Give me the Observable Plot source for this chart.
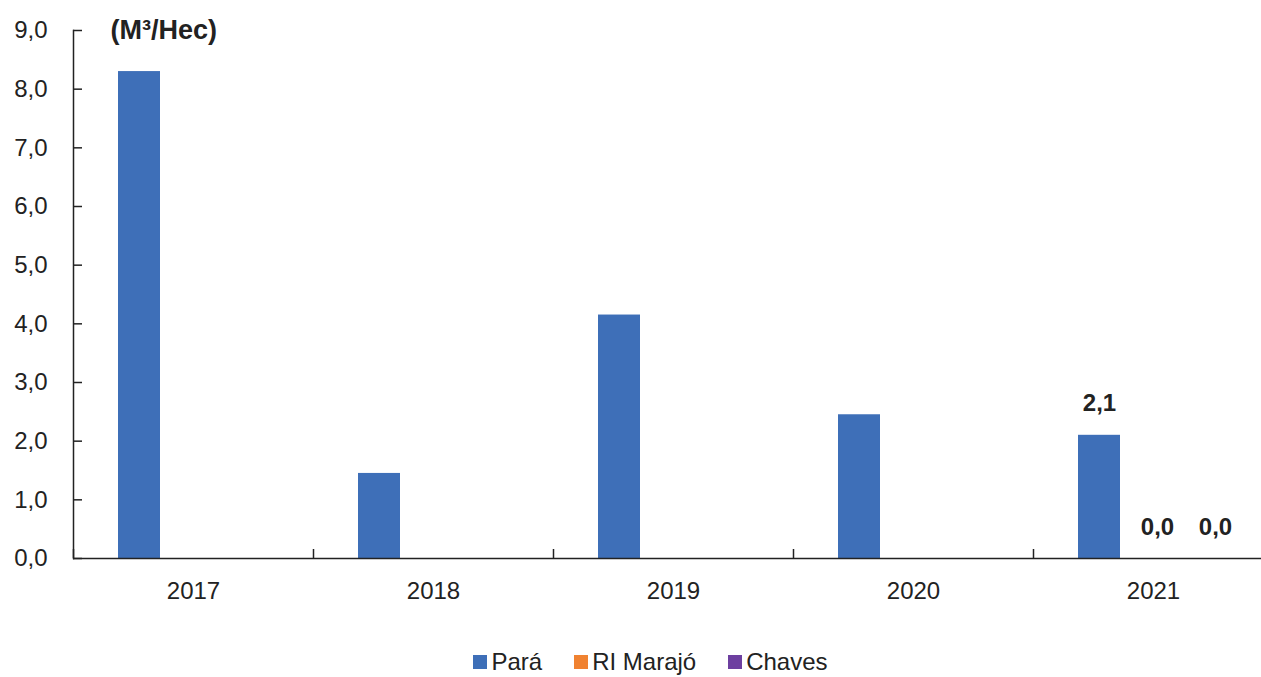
<!DOCTYPE html>
<html>
<head>
<meta charset="utf-8">
<script src="https://cdn.jsdelivr.net/npm/d3@7"></script>
<script src="https://cdn.jsdelivr.net/npm/@observablehq/plot@0.6"></script>
<style>
  html, body { margin: 0; padding: 0; background: #fff; overflow: hidden; }
  #chart { width: 1261px; }
  .legend { display: flex; justify-content: center; align-items: center; margin-top: 28px; padding-left: 40px;
    font-family: "Liberation Sans", Arial, sans-serif; font-size: 24px; line-height: 28px; color: #222; }
  .legend .item { display: flex; align-items: center; margin: 0 16px; }
  .legend .sw { width: 14px; height: 14px; margin-right: 4px; }
</style>
</head>
<body>
<div id="chart"></div>
<script>
const years = ["2017", "2018", "2019", "2020", "2021"];
const series = ["Pará", "RI Marajó", "Chaves"];
const para = [8.3, 1.45, 4.15, 2.45, 2.1];
const marajo = [null, null, null, null, 0];
const chaves = [null, null, null, null, 0];
const colors = ["#3E6FB8", "#F08231", "#6D3FA0"];
const yTicks = [0, 1, 2, 3, 4, 5, 6, 7, 8, 9];
const unitLabel = "(M³/Hec)";
const labelledYear = "2021";

const values = [para, marajo, chaves];
const data = years.flatMap((yr, i) => series.map((s, j) => ({year: yr, series: s, value: values[j][i]})));
const fmt = v => v.toFixed(1).replace(".", ",");

const fxStart = 73, fxEnd = 1273;
const band = (fxEnd - fxStart) / years.length;
const ink = "#222";

const chart = Plot.plot({
  width: 1261,
  height: 620,
  marginTop: 30,
  marginBottom: 62,
  marginLeft: fxStart,
  marginRight: 0,
  style: {fontFamily: "Liberation Sans, Arial, sans-serif", fontSize: "24px", color: ink, background: "#fff"},
  fx: {domain: years, range: [fxStart, fxEnd], padding: 0},
  x: {domain: series, range: [fxStart + 45, fxStart + 203], paddingInner: 0.276, paddingOuter: 0, axis: null},
  y: {domain: [0, 9]},
  color: {domain: series, range: colors},
  marks: [
    Plot.barY(data.filter(d => d.value != null), {fx: "year", x: "series", y: "value", fill: "series"}),
    Plot.ruleY([0], {stroke: ink, strokeWidth: 1.5}),
    Plot.frame({anchor: "left", facetAnchor: "left", stroke: ink, strokeWidth: 1.5}),
    Plot.axisY({ticks: yTicks, tickSize: -9, text: null, label: null, stroke: ink, strokeWidth: 1.5, strokeOpacity: 1}),
    Plot.axisY({ticks: yTicks, tickSize: 0, tickPadding: 26, tickFormat: fmt, label: null, fontSize: 24, fill: ink}),
    Plot.axisFx({anchor: "bottom", tickSize: -9, dx: -band / 2, text: null, label: null, stroke: ink, strokeWidth: 1.5, strokeOpacity: 1}),
    Plot.axisFx({anchor: "bottom", tickSize: 0, tickPadding: 23, label: null, fontSize: 24, fill: ink}),
    Plot.text(data.filter(d => d.year === labelledYear && d.value != null), {
      fx: "year", x: "series", y: "value", text: d => fmt(d.value),
      dy: -24, lineAnchor: "bottom", fontWeight: "bold", fontSize: 24, fill: ink
    }),
    Plot.text([unitLabel], {frameAnchor: "top-left", facetAnchor: "left", dx: 37, textAnchor: "start",
      lineAnchor: "middle", fontWeight: "bold", fontSize: 27, fill: ink})
  ]
});
document.getElementById("chart").appendChild(chart);

const legend = document.createElement("div");
legend.className = "legend";
series.forEach((s, i) => {
  const item = document.createElement("div");
  item.className = "item";
  const sw = document.createElement("span");
  sw.className = "sw";
  sw.style.background = colors[i];
  const t = document.createElement("span");
  t.textContent = s;
  item.appendChild(sw);
  item.appendChild(t);
  legend.appendChild(item);
});
document.getElementById("chart").appendChild(legend);
</script>
</body>
</html>
